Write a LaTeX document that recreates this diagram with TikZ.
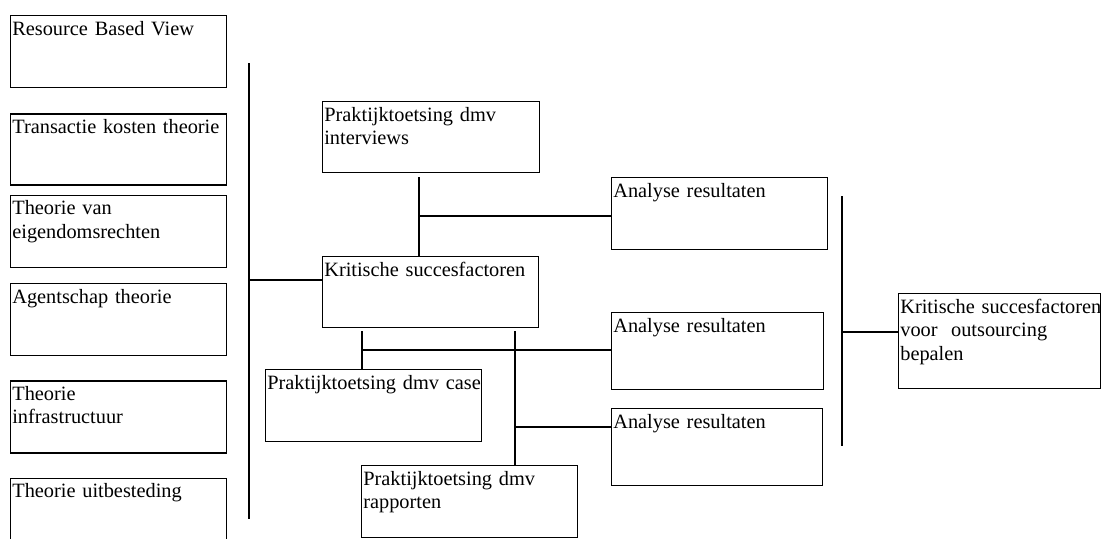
\documentclass[tikz,border=0pt]{standalone}
\usepackage{fontspec}
\setmainfont{Liberation Serif}
\usepackage{tikz}
\usetikzlibrary{positioning}
\hyphenpenalty=10000
\exhyphenpenalty=10000

\begin{document}
\begin{tikzpicture}[
  x=0.6pt, y=-0.6pt,
  font=\fontsize{12.2}{14.1}\selectfont,
  blok/.style={rectangle, draw=black, line width=0.8pt, anchor=north west,
               align=left, inner xsep=1pt, inner ysep=1pt,
               text width=127.6pt, text height=10.6pt, text depth=30.6pt},
  hoog/.style={text depth=33.6pt},
  link/.style={draw=black, line width=0.8pt},
]
\useasboundingbox (0,0) rectangle (1101,538);

\node[blok] (rbv) at (10,15) {Resource~Based~View};
\node[blok, text depth=30pt, below right=15pt and 0pt of rbv.south west] (tkt) {Transactie~kosten~theorie};
\node[blok, below right=5.4pt and 0pt of tkt.south west] (eig) {Theorie van\\eigendomsrechten};
\node[blok, below right=9pt and 0pt of eig.south west]   (agt) {Agentschap~theorie};
\node[blok, below right=14.4pt and 0pt of agt.south west] (inf) {Theorie\\infrastructuur};
\node[blok, below right=14.4pt and 0pt of inf.south west] (uit) {Theorie~uitbesteding};

\node[blok, text width=128.2pt, text depth=30pt] (int) at (322,101) {Praktijktoetsing dmv\\interviews};
\node[blok, text depth=30pt] (ksf) at (322,256) {Kritische~succesfactoren};
\node[blok] (cas) at (265,369) {Praktijktoetsing~dmv~case};
\node[blok] (rap) at (361,465) {Praktijktoetsing dmv\\rapporten};

\node[blok] (ana1) at (611,177) {Analyse~resultaten};
\node[blok, hoog, text width=125.2pt] (ana2) at (611,312) {Analyse~resultaten};
\node[blok, hoog, text width=124.6pt] (ana3) at (611,408) {Analyse~resultaten};

\node[blok, text width=119.2pt, text depth=44.4pt] (eind) at (898,293) {\mbox{Kritische succesfactoren}\\voor\ \ outsourcing\\bepalen};

\coordinate (lb1) at (249,63);
\coordinate (lb2) at (249,519);
\coordinate (lj)  at (249,280);
\draw[link] (lb1) -- (lb2);
\draw[link] (lj) -- (lj -| ksf.west);

\coordinate (it) at (419,177);
\coordinate (ij) at (419,216);
\draw[link] (it) -- (it |- ksf.north);
\draw[link] (ij) -- (ij -| ana1.west);

\coordinate (c1) at (362,331);
\coordinate (c2) at (515,331);
\coordinate (cj) at (362,350);
\coordinate (rj) at (515,427);
\draw[link] (c1) -- (c1 |- cas.north);
\draw[link] (c2) -- (c2 |- rap.north);
\draw[link] (cj) -- (cj -| ana2.west);
\draw[link] (rj) -- (rj -| ana3.west);

\coordinate (rb1) at (842,196);
\coordinate (rb2) at (842,446);
\coordinate (rj2) at (842,332);
\draw[link] (rb1) -- (rb2);
\draw[link] (rj2) -- (rj2 -| eind.west);

\end{tikzpicture}
\end{document}
